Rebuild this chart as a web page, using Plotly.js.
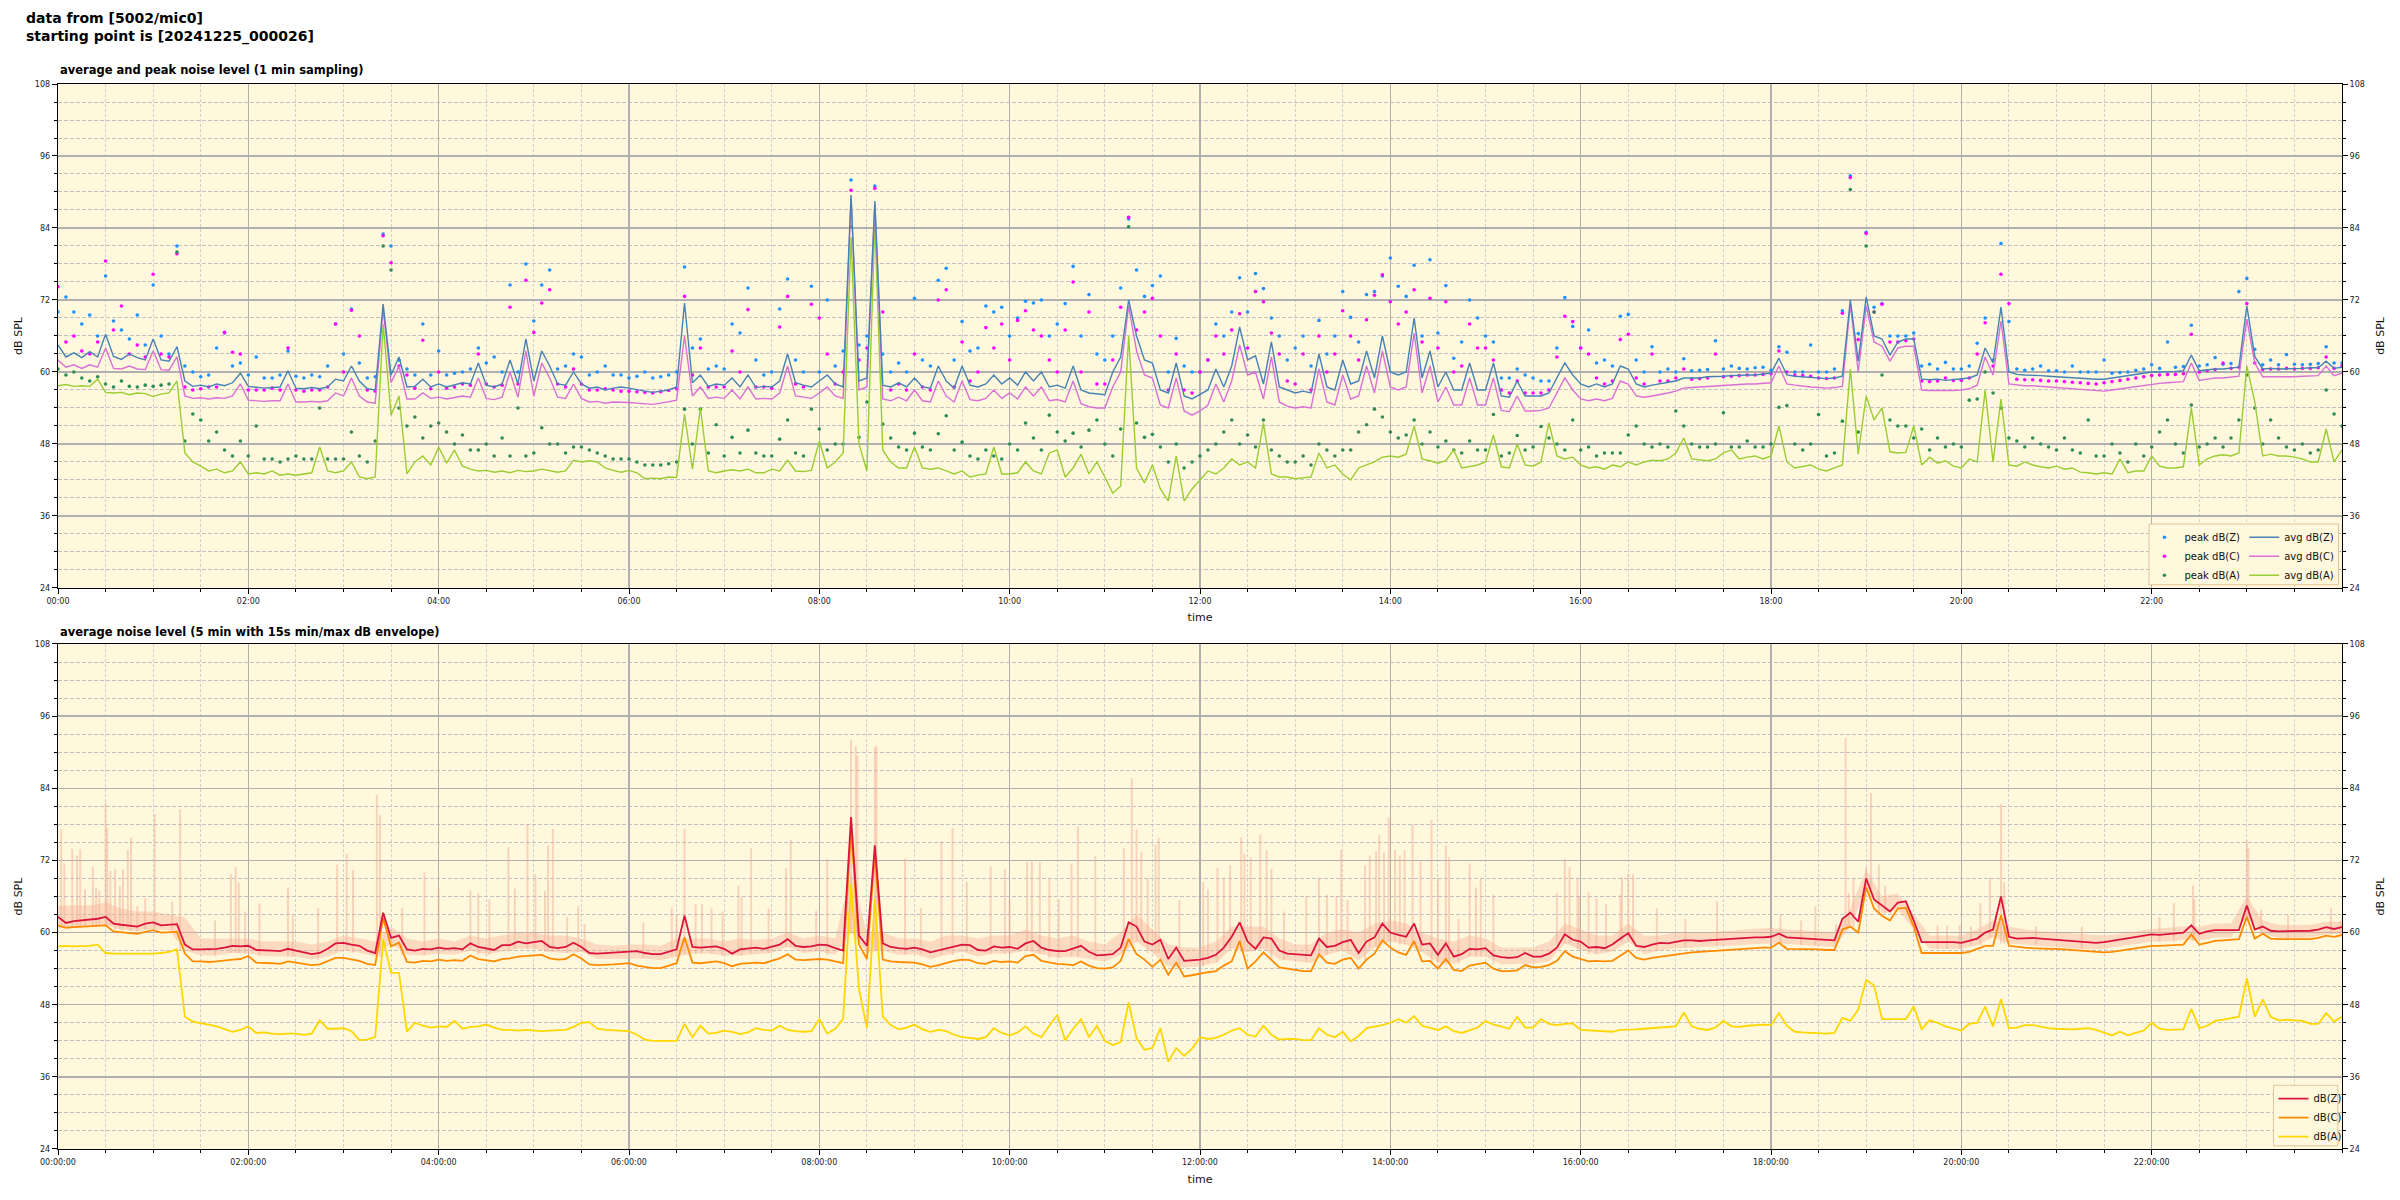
<!DOCTYPE html>
<html><head><meta charset="utf-8">
<script src="https://cdn.plot.ly/plotly-3.0.1.min.js"></script>
<style>html,body{margin:0;padding:0;background:#fff}#chart{width:2400px;height:1200px}</style>
</head><body><div id="chart"></div>
<script>
// ---------- DATA (minutes after 00:00, values in dB SPL) ----------
const hourTicks = [0,120,240,360,480,600,720,840,960,1080,1200,1320];
const topTickText = ['00:00','02:00','04:00','06:00','08:00','10:00','12:00','14:00','16:00','18:00','20:00','22:00'];
const bottomTickText = ['00:00:00','02:00:00','04:00:00','06:00:00','08:00:00','10:00:00','12:00:00','14:00:00','16:00:00','18:00:00','20:00:00','22:00:00'];

// top chart: 1-min averages, read every 5 min (00:00 ... 24:00)
const avgZ = [
64.5,62.5,63.2,62.4,63.4,62.5,66.3,62.6,62.1,63.0,62.4,62.0,
65.5,62.0,61.8,64.2,58.5,57.6,57.8,57.5,58.0,57.7,58.2,59.8,
57.6,57.5,57.3,57.4,57.5,60.2,57.3,57.2,57.4,57.2,57.5,58.8,
58.5,61.0,58.5,57.2,57.0,71.3,59.5,62.5,57.5,57.6,58.8,57.5,
58.0,57.5,57.8,58.2,58.0,61.5,57.8,57.5,58.0,62.0,58.0,65.5,
58.5,63.5,61.0,58.0,57.8,60.0,58.0,57.3,57.5,57.0,57.3,57.5,
57.3,57.0,56.8,56.6,56.8,57.0,57.5,71.5,58.2,59.5,57.6,58.0,
57.8,59.0,57.5,59.5,57.4,57.6,57.5,58.5,63.0,58.2,57.8,57.5,
58.5,59.5,58.0,57.5,89.5,58.5,59.0,88.5,57.8,57.5,58.2,57.5,
59.0,57.5,57.3,61.0,58.5,57.3,61.0,57.8,57.5,58.0,59.5,58.0,
59.0,57.8,60.0,58.5,60.0,57.5,57.8,57.3,61.0,57.0,56.5,56.3,
56.2,60.0,62.5,72.0,66.0,62.0,61.5,57.0,56.5,61.5,56.0,55.5,
56.2,57.0,60.5,57.5,61.0,67.5,62.0,62.7,58.0,65.0,57.5,57.0,
56.5,56.8,56.5,63.0,57.5,57.0,62.0,58.0,58.5,63.5,59.0,66.0,
60.0,59.5,60.0,69.0,59.0,63.5,57.5,60.0,57.0,57.0,61.5,57.0,
57.0,61.5,56.0,55.8,58.5,56.0,56.0,56.0,56.5,59.0,61.5,59.5,
58.0,57.5,58.0,57.5,58.0,61.0,60.5,58.0,57.5,57.8,58.0,58.2,
58.5,59.0,59.0,59.0,59.2,59.2,59.3,59.4,59.5,59.5,59.5,59.6,
59.8,62.3,59.5,59.3,59.2,59.2,59.0,58.9,59.0,59.3,72.0,61.8,
72.5,66.0,65.5,62.8,65.0,65.5,65.5,58.8,58.7,58.8,58.6,58.7,
58.8,59.0,59.5,64.0,61.5,70.8,60.0,59.6,59.5,59.5,59.4,59.3,
59.2,59.2,59.1,59.0,58.9,58.8,58.8,59.0,59.2,59.4,59.6,59.8,
60.0,60.0,60.0,60.1,60.2,62.8,60.2,60.4,60.5,60.5,60.6,60.8,
71.0,62.6,60.5,60.6,60.5,60.5,60.6,60.6,60.7,60.7,61.8,60.6,60.8];
const avgC = [
62.0,60.8,61.2,60.6,61.2,60.8,64.0,60.6,60.5,61.0,60.5,60.4,
63.5,60.4,60.3,62.5,56.0,55.6,55.7,55.5,55.7,55.6,56.0,58.0,
55.3,55.2,55.1,55.2,55.2,58.0,55.0,55.0,55.1,55.0,55.2,56.5,
56.0,59.0,56.0,55.0,54.8,70.5,58.2,61.0,55.5,55.5,56.5,55.6,
55.8,55.5,55.7,56.0,55.8,59.0,55.6,55.4,55.8,60.0,55.8,63.5,
56.0,61.5,59.0,55.8,55.6,58.0,55.6,55.0,55.1,54.8,55.0,55.0,
54.9,54.8,54.7,54.6,54.8,55.0,55.3,66.0,56.0,57.5,55.6,55.8,
55.6,57.0,55.5,57.5,55.5,55.6,55.5,56.5,61.0,56.0,55.8,55.6,
56.5,57.5,56.0,55.6,89.0,57.0,57.5,88.0,55.5,55.2,55.8,55.2,
57.0,55.2,55.0,58.5,56.0,55.0,58.5,55.4,55.2,55.6,57.0,55.6,
56.5,55.5,57.5,56.0,57.5,55.2,55.4,55.0,58.5,54.7,54.2,54.0,
54.0,57.5,60.0,71.0,63.5,59.5,59.0,54.5,54.0,59.0,53.5,52.8,
53.5,54.5,58.0,55.0,58.5,64.5,59.5,60.0,55.5,62.5,55.0,54.3,
54.0,54.2,54.0,60.5,55.0,54.5,59.5,55.5,56.0,61.0,56.5,63.5,
57.5,57.0,57.5,66.5,56.5,61.0,55.0,57.5,54.5,54.5,59.0,54.5,
54.5,59.0,53.6,53.4,56.0,53.5,53.5,53.6,54.0,56.5,59.0,57.0,
55.5,55.2,55.5,55.2,55.6,58.5,58.0,56.0,55.8,56.0,56.2,56.5,
56.8,57.3,57.4,57.5,57.6,57.6,57.7,57.8,57.9,58.0,58.0,58.1,
58.2,61.0,58.0,57.8,57.6,57.5,57.4,57.3,57.4,57.6,71.3,60.0,
71.0,65.0,64.3,61.8,64.0,64.3,64.3,57.0,56.9,56.9,56.8,56.9,
57.0,57.2,57.8,62.5,59.5,68.5,58.0,57.8,57.7,57.7,57.6,57.5,
57.4,57.3,57.2,57.1,57.0,56.9,56.8,57.0,57.2,57.4,57.6,57.8,
58.0,58.1,58.2,58.3,58.4,61.5,58.6,58.8,59.0,59.0,59.1,59.3,
68.8,61.5,59.2,59.2,59.1,59.2,59.2,59.3,59.3,59.4,61.0,59.4,59.8];
const avgA = [
57.7,57.9,57.6,57.7,57.6,58.8,56.6,56.5,56.6,56.2,56.5,56.4,
55.9,56.3,56.5,58.5,46.5,45.0,44.3,43.5,43.8,43.2,43.5,45.0,
43.0,43.2,43.0,43.5,42.8,43.0,42.8,43.0,43.2,47.5,43.5,43.2,
43.5,45.0,42.5,42.2,42.5,68.0,52.8,56.0,43.0,45.0,46.0,44.5,
47.5,44.8,47.0,44.3,43.8,43.5,43.6,43.3,43.5,43.2,43.6,43.4,
43.5,43.8,43.5,43.3,43.5,45.3,45.0,45.2,45.0,44.0,43.6,43.3,
43.6,43.2,42.2,42.3,42.2,42.5,42.4,53.0,43.8,54.0,43.5,43.2,
43.5,43.7,43.5,43.8,43.2,43.2,43.8,43.5,45.3,43.5,43.4,43.6,
48.5,44.0,45.0,46.5,82.5,48.0,43.5,85.0,47.0,45.0,44.0,44.0,
47.5,44.0,43.8,44.0,43.5,43.0,43.5,42.5,42.8,43.0,47.5,43.0,
43.0,43.2,45.0,43.5,43.0,46.5,47.0,42.5,44.0,46.3,43.0,45.0,
42.5,39.8,41.0,66.0,44.0,41.5,44.5,40.5,38.5,46.0,38.5,40.5,
42.0,43.5,43.0,44.0,45.5,44.5,45.0,44.0,51.5,43.0,42.5,42.5,
42.2,42.3,42.5,46.5,44.0,44.5,43.0,42.0,44.0,44.5,45.0,45.8,
46.0,45.8,46.3,51.0,45.5,45.2,44.8,45.2,47.0,44.0,44.3,44.5,
45.0,49.5,44.2,44.0,48.0,44.5,44.3,45.0,51.5,46.0,45.5,45.8,
44.5,44.0,44.2,43.8,44.5,44.2,45.0,44.5,45.0,45.3,45.2,45.5,
46.5,49.0,45.5,45.3,45.2,45.5,46.5,47.0,45.5,45.8,46.0,45.5,
46.0,51.0,45.0,44.0,44.2,44.5,43.8,43.5,44.0,44.5,60.5,46.3,
56.0,52.0,54.0,46.7,46.5,46.6,51.0,44.5,45.8,44.8,45.2,44.3,
44.0,45.5,45.0,57.0,45.0,55.5,44.5,44.3,45.0,44.5,44.2,44.0,
44.3,43.8,44.0,43.3,43.2,43.0,43.2,43.0,45.5,43.2,43.5,43.5,
46.0,44.3,44.0,44.0,44.2,54.0,44.5,45.5,46.0,46.2,46.0,46.5,
61.0,55.0,46.0,46.3,46.0,46.0,45.8,45.5,45.0,45.0,50.5,45.0,47.0];

// top chart: peak values, read every 5 min
const peakZ = [
70,72.5,70,68,69.5,66,76,68.5,67,65.5,69.5,64.5,
74.5,66,63,81,61,60,59.2,59.5,64,66.5,61,61.5,
59.5,62.5,59,59,59.5,63.5,59.3,59,59.5,59.2,61,68,
63,70.5,61.5,59,59.2,83,81,62,60.5,59.5,68,59.5,
63.5,59.5,59.8,60,60.5,64,61.5,62.5,60,74.5,60,78,
68.5,74.5,77,60.5,61,63,62.5,59.5,60,61,59.5,59.5,
59,59.3,60,59,59.2,59.5,60,77.5,64,65.5,60.5,61,
60.5,68,66.5,74,62,59.5,60,70.5,75.5,62,60,74.3,
60,72,61,63.5,92,64.5,66,91,63,60,61.5,60,
72.3,62,61,75.3,77.3,62,68.4,63.5,64,71,70,70.8,
66,69,71.8,71.5,72,66,68,71.4,77.6,66,72.9,63,
62,66,74,85.5,77,72.6,74.4,76,60,65.6,61,60,
60,62,68,66,70,75.7,70,76.4,73.9,69,66,62,
64,66,61,68.6,63,66,73.4,69.1,65,72.9,73.4,76,
79,74.3,72.6,77.8,66,78.7,66.5,74.4,62.3,65,72,69,
66,65,59,59,60.5,59.5,59,58.5,58.5,64,72.4,67.6,
64,67,61.5,62,61,69.3,69.6,62,60,64.2,60,60.5,
60,62.2,60.2,60.3,60.4,65.2,60.5,61,60.6,60.5,60.7,60.8,
60.3,64.2,63.3,60,60,64.5,60,60,60.5,70.2,92.7,66.4,
83.3,70.8,71.4,66,66,66,66.5,61,61.3,60.5,61.6,60.5,
60.5,61,64.8,69,62,81.4,68.4,60.5,60.3,60.5,61,60.2,
60.2,60,61,60,60,60,62,59.8,59.9,60,60.3,60.5,
61.2,60.6,65,60.8,60.9,67.8,61,61.2,62.4,61.3,61.4,73.4,
75.6,63.8,61.2,62,61.2,62.9,61.3,61.2,61.3,61.4,64.2,61.5,61.5];
const peakC = [
74.2,65,66,63.5,63,65,78.5,67,71,63,64.5,62.5,
76.3,63,62.5,79.7,57.5,57,57.2,57.5,57.5,66.6,63.3,63,
57,57,57,57.3,57,64,57,56.8,57,57,57.5,68,
60,70.3,66,57,56.8,82.7,78.2,61,59.5,57.3,65.3,57.2,
60,57.3,57.5,58,57.8,63,58,57.5,57.8,70.8,58,75.3,
66.6,71.5,73.7,58,57.5,60.5,58,57,57,57.2,57,56.8,
56.8,56.7,56.6,56.5,56.7,56.9,57.2,72.6,59.5,64,57.5,57.5,
57.5,63.5,60,70.4,57.5,57.5,57.3,67.5,72.6,58,57.5,71.3,
69,63,58,60,90.3,62,64,90.6,70,57,58,57,
63,57.5,57,72,73.7,57.5,65,58.5,60,67.4,64,68,
62,68.6,70.2,67,66,62,60,67,75,60,70,58,
58,62,70.8,85.8,67,70,72.3,66,57,63,57,56.5,
60,62,66,63,67,69.7,64,73.4,71.7,66.5,63,58.5,
58,63,57,66,60,63,70.2,66,62,68.7,72.8,76.2,
71.7,68,70,73.7,65,72.3,64,71.7,60,61,68,64,
64,62,57,56.5,58.5,56.5,56.5,56.5,57,62.5,69.3,68.4,
64,63,59,58,58.5,65.4,66.3,59,58,63,58.5,58.5,
59,60.5,58.8,58.9,59,63,59.2,59.3,59.4,59.5,59.5,59.6,
59.7,63.5,60,59.5,59.4,59.3,59,58.9,59,69.8,92.4,65.4,
83.1,70,71.3,65,65,65.2,65.5,58.5,58.4,58.5,59,58.6,
58.6,59,63,68.2,61,76.3,71.4,58.8,58.7,58.7,58.6,58.5,
58.5,58.4,58.3,58.2,58.1,58,58.2,58.4,58.6,58.8,59,59.2,
59.4,59.5,59.6,59.6,59.7,66.3,60,60.2,60.4,61.5,60.6,60.8,
71.4,61.5,60.4,60.5,60.5,60.6,60.5,60.6,60.6,60.7,62.5,60.6,61];
const peakA = [
60.5,59.5,60,59,58.5,59.2,58,57.5,58.5,57.6,57.5,57.8,
57.6,57.8,58,80,48.5,53,52,48.5,50,47,46,48.5,
46,51,45.5,45.5,45,45.5,46,45.5,45.5,54,45.5,45.5,
45.5,50,46,45,48.5,81,77,54,51,52.5,49,51,
51.5,50,48,49.5,47,47,48,46,49,46,54,46,
46.5,50.7,48,48,46.5,47.5,47.5,47,46.5,46,45.5,45.5,
45.5,45,44.5,44.5,44.5,44.7,45,53.8,48,53.8,46.5,51.2,
46,49.1,46.5,50.3,46.5,46,46,48.8,52,46.5,46,53.8,
50.5,47,48,48,84.2,49.1,55,84.1,51.3,49,47.5,47,
49.8,47.5,47,49.7,52.7,47,48.3,46,45.5,47,46,45.5,
48,47,51.5,49,47,52.8,50,48.5,49.8,47.5,50.3,52,
48,46,50.5,84.2,51.5,49.1,49.6,47.5,45,48,44,45,
46,47,48,50,52,48,49.5,47.5,52,47,46,45,
45,46,44.5,48,47,46,47,47,50,51.2,53.8,52.5,
50,49,49.5,52,48,50,47.5,48.5,47,46.5,48.5,47,
47,52.9,46,46.5,49.4,47,47.5,50.9,49,48,47,52,
47,47.5,46,46.5,46.5,46.5,49.5,51,48,47.5,48,47.5,
53.5,51,48,47.5,47.5,48,53.2,47.5,47.5,48.5,47.5,47.5,
48,54.1,54.4,48,47,48,52.9,46,46.5,51.8,90.4,50,
81,70,59.5,52,51,51,49,50.5,47,49,47.5,48,
47.5,55.3,55.5,60,56.5,54,49,48.5,47.5,49,48,47.5,
47,49,47,46.5,52,46,46,48,46.5,45,48,46,
47.5,50,52,48,46.5,54.5,47.5,48,49,47.5,49,52,
59.5,54,48,52,49,47.5,47,48,46.5,47,57,53,51];

// bottom chart: 5-min averages, read every 5 min
const levelZ = [
62.6,61.6,61.9,62.0,62.1,62.3,62.6,61.5,61.3,61.1,61.0,61.5,
61.7,61.2,61.3,61.4,58.0,57.2,57.2,57.2,57.3,57.5,57.8,57.7,
57.8,57.1,57.1,57.0,56.9,57.3,57.0,56.7,56.4,56.6,57.3,58.2,
58.3,58.0,57.8,57.0,56.6,63.3,59.1,59.5,57.2,57.0,57.3,57.2,
57.5,57.3,57.4,57.2,58.2,57.6,57.3,57.1,57.9,57.9,58.5,58.2,
58.4,58.6,57.6,57.4,57.6,58.3,57.6,56.6,56.5,56.6,56.6,56.7,
56.8,56.9,56.6,56.4,56.4,56.8,57.2,62.8,57.6,57.5,57.6,57.7,
57.3,56.5,57.2,57.4,57.5,57.3,57.7,58.0,58.9,57.8,57.6,57.7,
58.0,57.9,57.4,57.0,79.2,59.5,57.8,74.5,58.2,57.6,57.4,57.3,
57.5,57.2,56.7,57.0,57.4,57.7,58.0,57.9,57.1,57.0,57.7,57.5,
57.6,57.3,58.2,58.6,57.5,57.1,56.9,56.9,57.3,57.8,56.8,56.2,
56.3,56.4,57.5,61.7,61.0,58.5,58.0,58.8,55.6,57.5,55.3,55.4,
55.5,55.8,56.3,57.5,59.3,61.7,58.5,57.3,59.2,59.0,57.0,56.5,
56.4,56.2,56.2,59.0,57.6,57.8,58.4,58.8,56.6,58.5,59.2,61.5,
60.0,59.6,59.3,61.5,58.0,58.2,56.3,58.2,56.0,56.4,57.3,57.2,
57.4,56.2,55.9,55.8,55.9,56.6,56.0,56.0,56.5,57.5,59.7,58.8,
58.5,57.5,57.6,57.4,58.0,59.0,59.9,57.8,57.6,58.0,58.3,58.2,
58.5,58.7,58.7,58.6,58.7,58.8,58.9,59.0,59.0,59.1,59.2,59.2,
59.3,59.8,59.2,59.1,59.0,58.9,58.9,58.8,58.7,62.3,63.3,61.8,
69.0,65.5,64.5,63.5,65.0,65.2,62.0,58.4,58.4,58.4,58.5,58.4,
58.3,58.6,59.0,60.0,60.5,66.0,59.3,59.0,59.1,59.1,59.0,58.9,
58.8,58.7,58.6,58.5,58.3,58.3,58.4,58.6,58.8,59.0,59.2,59.4,
59.7,59.6,59.7,59.8,60.0,61.2,59.8,60.2,60.4,60.4,60.4,60.4,
64.5,60.5,61.0,60.3,60.2,60.2,60.2,60.2,60.3,60.5,60.9,60.6,60.9];
const levelC = [
61.2,60.8,60.9,61.0,61.1,61.1,61.2,60.2,60.0,59.9,59.8,60.1,
60.4,60.0,60.0,60.1,56.5,55.2,55.2,55.1,55.2,55.4,55.5,55.6,
56.1,55.0,55.0,54.9,54.8,55.2,55.0,54.8,54.6,54.7,55.2,55.8,
55.8,55.5,55.3,54.8,54.6,62.4,57.7,58.3,55.1,55.0,55.3,55.2,
55.5,55.3,55.4,55.3,56.2,55.6,55.4,55.2,55.6,55.7,56.0,56.1,
56.2,56.3,55.7,55.5,55.6,56.4,55.7,54.7,54.6,54.6,54.7,54.8,
54.9,54.5,54.3,54.1,54.1,54.5,54.9,59.2,55.0,54.9,55.1,55.2,
54.9,54.4,54.8,54.9,55.0,54.9,55.3,55.7,56.4,55.5,55.4,55.5,
55.6,55.5,55.2,54.9,77.1,58.0,55.6,73.1,55.5,55.2,55.1,55.0,
55.0,54.7,54.3,54.6,55.0,55.3,55.5,55.4,54.9,54.8,55.3,55.1,
55.2,55.0,56.1,56.3,55.3,55.0,54.8,54.7,54.6,55.2,54.5,54.1,
54.0,54.2,55.3,58.9,56.4,55.5,54.3,55.5,53.0,55.0,52.7,52.9,
53.2,53.4,53.6,54.5,55.2,58.6,54.0,55.2,56.7,55.5,54.2,54.0,
53.8,53.6,53.6,56.4,55.0,54.8,55.5,55.8,54.0,55.5,56.5,58.7,
57.5,56.7,56.3,58.6,55.2,55.3,54.0,55.6,53.8,53.6,54.5,54.8,
55.0,54.0,53.6,53.6,53.7,54.6,54.2,54.3,54.6,55.3,56.9,56.0,
55.6,55.2,55.3,55.2,55.3,56.2,57.0,55.8,55.5,55.8,56.0,56.1,
56.3,56.5,56.7,56.8,56.9,57.0,57.0,57.1,57.2,57.3,57.4,57.5,
57.5,58.3,57.3,57.3,57.2,57.2,57.2,57.1,57.1,60.5,61.0,60.0,
67.5,64.0,62.8,62.0,64.0,64.1,61.0,56.6,56.6,56.6,56.6,56.6,
56.6,56.8,57.3,57.8,57.8,62.9,57.8,57.6,57.5,57.4,57.3,57.3,
57.3,57.2,57.1,57.0,56.8,56.7,56.7,56.8,57.0,57.2,57.4,57.6,
57.8,57.8,57.9,57.9,58.0,59.7,58.0,58.3,58.6,58.7,58.8,58.9,
62.6,59.0,59.8,59.0,58.9,58.9,58.9,58.9,58.9,59.1,59.5,59.3,59.6];
const levelA = [
57.7,57.8,57.7,57.7,57.8,58.0,56.6,56.5,56.5,56.4,56.4,56.5,
56.5,56.6,56.8,57.2,46.0,45.2,45.0,44.7,44.4,44.0,43.5,43.8,
44.4,43.3,43.4,43.2,43.1,43.2,43.2,43.0,43.2,45.4,44.0,44.0,
44.1,43.6,42.1,42.2,42.6,58.9,53.3,53.3,43.5,45.0,44.5,44.2,
44.4,44.3,45.3,44.0,44.3,44.4,44.7,44.2,43.8,43.8,43.7,43.8,
43.7,43.6,43.7,43.7,43.8,44.3,45.0,45.1,44.0,43.8,43.7,43.7,
43.6,43.0,42.2,42.0,42.0,41.9,42.0,44.8,42.6,44.5,43.2,43.3,
43.7,43.5,43.1,43.4,44.1,43.8,43.7,44.5,43.8,43.6,43.5,43.6,
45.6,43.2,44.0,45.6,68.1,50.6,44.1,65.7,46.0,44.6,43.9,44.2,
44.7,43.9,43.5,43.8,43.6,43.0,42.6,42.5,42.3,42.6,44.1,43.3,
42.9,43.4,44.4,43.2,42.6,44.5,46.3,42.1,44.0,45.6,42.6,44.5,
42.0,41.3,41.8,48.4,42.4,40.5,40.8,44.1,38.5,40.8,39.5,40.7,
42.6,42.3,42.5,43.0,43.7,44.1,43.0,42.7,44.5,43.0,42.2,42.3,
42.3,42.1,42.1,44.1,43.0,42.6,43.5,41.9,42.8,44.1,44.3,44.6,
45.0,45.6,45.0,46.1,44.5,44.2,43.8,44.4,43.6,43.3,43.8,44.2,
45.3,44.7,44.4,44.0,46.0,44.2,44.2,45.6,44.8,44.6,44.8,44.9,
43.8,43.7,43.6,43.6,43.5,43.8,43.8,43.9,44.0,44.1,44.2,44.3,
44.4,46.7,44.4,44.0,43.8,44.2,45.3,44.4,44.3,44.5,44.6,44.7,
44.6,46.6,44.5,43.5,43.4,43.3,43.2,43.2,43.3,45.8,45.3,47.2,
52.1,51.2,45.6,45.6,45.7,45.6,47.7,43.9,45.4,45.0,44.4,44.0,
43.7,44.8,45.0,47.7,44.4,48.9,44.1,44.2,44.6,44.6,44.3,44.1,
44.0,43.9,43.9,44.0,44.1,43.8,43.4,42.9,43.5,42.9,43.3,43.7,
45.0,44.0,43.8,43.8,43.9,47.3,44.1,44.5,45.3,45.5,45.8,46.0,
52.4,46.0,48.9,46.0,45.4,45.5,45.4,45.3,44.8,44.8,46.6,45.2,46.0];

// bottom chart: 15 s min/max envelope, band read every 10 min
const envelopeMin = [
60.8,60.8,61.0,61.2,60.5,60.2, 60.6,60.4,57.0,56.2,56.2,56.6,
56.5,56.1,56.0,56.0,55.5,56.0, 57.0,56.7,56.0,58.2,56.3,56.2,
56.5,56.3,57.0,56.3,56.8,57.3, 57.3,56.8,56.6,56.8,55.6,55.6,
55.7,55.7,55.4,56.0,56.5,56.5, 56.2,56.2,56.4,56.6,57.6,56.6,
56.9,56.3,60.0,56.7,57.0,56.3, 56.4,55.6,56.3,56.8,56.0,56.5,
56.5,57.0,56.4,55.8,56.0,55.6, 55.2,56.3,58.5,56.6,54.4,54.2,
54.4,55.0,57.3,56.8,57.3,55.5, 55.2,55.0,56.3,57.0,55.4,57.5,
58.5,58.0,56.8,55.0,54.8,56.0, 56.0,54.7,54.8,54.8,55.2,58.2,
57.2,56.4,56.8,58.5,56.4,57.0, 57.4,57.5,57.6,57.8,57.9,58.1,
58.2,58.1,57.9,57.8,57.6,61.0, 67.0,63.2,63.8,60.5,57.3,57.3,
57.3,57.9,59.2,58.2,58.0,57.9, 57.7,57.5,57.2,57.3,57.7,58.1,
58.5,58.5,58.8,58.7,59.2,59.2, 62.5,59.8,59.1,59.1,59.2,59.7,59.8];
const envelopeMax = [
64.5,64.5,64.5,65.0,64.0,63.5, 63.5,63.0,62.5,59.0,59.0,59.0,
59.0,58.5,58.5,58.5,58.0,58.5, 59.5,59.0,58.5,61.0,59.0,58.5,
59.0,58.5,59.5,59.0,59.5,60.0, 60.0,59.5,59.5,59.0,58.0,57.8,
58.0,58.0,57.8,59.0,59.0,59.0, 58.5,59.0,58.8,59.0,60.0,59.0,
59.5,59.0,70.0,60.0,60.0,59.0, 59.0,58.5,59.5,59.5,59.0,59.5,
59.5,60.5,59.5,59.0,59.5,58.5, 58.0,60.0,63.0,60.5,58.0,57.5,
57.5,58.5,61.0,61.0,61.0,59.0, 58.0,58.0,60.0,60.5,60.0,61.5,
62.0,61.5,60.0,59.0,58.5,59.5, 59.0,57.5,57.5,57.5,58.5,61.5,
60.5,59.5,59.5,61.5,59.5,59.5, 60.0,60.0,60.0,60.2,60.4,60.5,
60.8,60.5,60.3,60.2,60.0,64.0, 70.5,66.0,66.5,63.0,59.5,59.5,
59.5,60.5,62.0,61.0,60.5,60.2, 60.0,59.8,59.6,59.5,59.8,60.2,
60.6,60.8,61.0,61.0,61.5,61.5, 66.0,62.0,61.3,61.2,61.3,61.8,61.8];
// short max-envelope bursts (minute, dB)
const burstTimes = [2,4,9,12,14,17,22,24,26,30,31,33,36,39,41,44,46,50,55,61,72,77,99,109,112,114,118,127,145,148,164,176,182,186,201,203,217,231,240,260,265,272,284,288,296,301,307,309,312,321,328,332,369,
387,390,395,402,406,412,419,429,431,437,448,459,462,478,485,500,503,504,515,516,534,544,557,564,573,588,597,600,611,614,619,625,631,639,643,654,672,677,680,683,687,692,694,707,722,725,731,735,739,
746,748,752,758,762,765,773,787,795,800,806,809,813,824,827,831,833,836,839,843,846,849,854,859,866,870,875,877,883,890,894,897,905,945,950,953,958,959,965,970,976,985,986,990,993,1008,1026,1046,1086,1099,1108,
1121,1127,1129,1132,1140,1143,1148,1152,1185,1191,1199,1206,1212,1218,1222,1225,1227,1247,1276,1325,1334,1346,1347,1380,1381,1389,1406,1433,1439];
const burstMax = [77.1,71.5,73.9,72.8,73.9,67.2,70.9,67.5,66.9,81.6,77.4,70.3,70.6,67.7,70.5,73.7,75.8,64.4,65.7,79.7,65.1,80.5,62.0,69.7,70.9,68.3,63.5,64.9,67.5,62.9,64.1,71.3,73.1,70.4,82.9,79.5,64.1,70.0,67.5,67.0,66.5,65.5,74.2,67.3,78.0,69.7,66.9,74.5,77.2,62.6,64.4,61.4,61.7,
64.1,63.0,77.2,64.7,64.7,64.0,63.5,67.8,66.0,74.0,64.0,70.7,75.4,63.6,72.3,92.0,91.0,89.4,90.8,91.0,72.3,64.1,75.2,77.4,68.4,71.0,70.6,65.4,71.7,71.8,71.7,69.1,65.5,71.5,77.6,72.8,74.0,85.7,77.1,73.4,69.1,74.6,75.7,65.4,68.4,67.2,70.8,69.0,71.2,
75.8,73.1,72.5,76.3,73.7,70.6,63.5,66.0,69.1,66.3,66.0,73.7,65.4,71.2,72.8,73.5,76.2,73.3,79.1,73.7,72.8,73.7,78.0,71.8,78.7,69.0,74.5,72.5,62.3,71.5,67.5,69.1,66.3,66.6,72.3,70.9,69.1,66.1,66.7,65.7,64.7,66.3,69.1,69.8,69.7,64.0,62.3,65.2,62.9,62.0,64.4,
61.4,92.4,66.6,69.1,70.9,83.2,71.3,67.8,61.2,61.2,61.2,61.0,64.9,69.1,63.5,81.4,68.4,61.0,61.0,62.6,64.9,67.8,65.5,75.4,74.0,63.8,62.9,64.1,62.0];

// ---------- sampling grids ----------
const t5 = avgZ.map((_, i) => i * 5);
const t10 = envelopeMin.map((_, i) => i * 10);
const burstBase = burstTimes.map(t => envelopeMin[Math.min(envelopeMin.length - 1, Math.round(t / 10))]);
const burstHeight = burstMax.map((v, i) => Math.max(0, v - burstBase[i]));

const FONT = 'DejaVu Sans';
const peakMarker = c => ({size: 3.6, color: c});
const traces = [
  {x: t5, y: peakZ, name: 'peak dB(Z)', mode: 'markers', type: 'scatter', marker: peakMarker('#1e90ff'), xaxis: 'x', yaxis: 'y', legend: 'legend'},
  {x: t5, y: peakC, name: 'peak dB(C)', mode: 'markers', type: 'scatter', marker: peakMarker('#ff00ff'), xaxis: 'x', yaxis: 'y', legend: 'legend'},
  {x: t5, y: peakA, name: 'peak dB(A)', mode: 'markers', type: 'scatter', marker: peakMarker('#2e8b57'), xaxis: 'x', yaxis: 'y', legend: 'legend'},
  {x: t5, y: avgA, name: 'avg dB(A)', mode: 'lines', type: 'scatter', line: {color: '#9acd32', width: 1.4}, xaxis: 'x', yaxis: 'y3', legend: 'legend2', legendrank: 3},
  {x: t5, y: avgC, name: 'avg dB(C)', mode: 'lines', type: 'scatter', line: {color: '#da70d6', width: 1.4}, xaxis: 'x', yaxis: 'y3', legend: 'legend2', legendrank: 2},
  {x: t5, y: avgZ, name: 'avg dB(Z)', mode: 'lines', type: 'scatter', line: {color: '#4682b4', width: 1.4}, xaxis: 'x', yaxis: 'y3', legend: 'legend2', legendrank: 1},

  {x: t10, y: envelopeMin, mode: 'lines', type: 'scatter', line: {width: 0, color: 'rgba(0,0,0,0)'}, showlegend: false, xaxis: 'x2', yaxis: 'y2'},
  {x: t10, y: envelopeMax, mode: 'lines', type: 'scatter', fill: 'tonexty', fillcolor: 'rgba(246,176,150,0.42)', line: {width: 0, color: 'rgba(0,0,0,0)'}, showlegend: false, xaxis: 'x2', yaxis: 'y2'},
  {x: burstTimes, y: burstHeight, base: burstBase, type: 'bar', width: 1.2, marker: {color: 'rgba(242,172,150,0.5)', line: {width: 0}}, showlegend: false, xaxis: 'x2', yaxis: 'y2'},
  {x: t5, y: levelA, name: 'dB(A)', mode: 'lines', type: 'scatter', line: {color: '#ffd700', width: 1.8}, xaxis: 'x2', yaxis: 'y4', legend: 'legend3', legendrank: 3},
  {x: t5, y: levelC, name: 'dB(C)', mode: 'lines', type: 'scatter', line: {color: '#ff8c00', width: 1.8}, xaxis: 'x2', yaxis: 'y4', legend: 'legend3', legendrank: 2},
  {x: t5, y: levelZ, name: 'dB(Z)', mode: 'lines', type: 'scatter', line: {color: '#dc143c', width: 1.8}, xaxis: 'x2', yaxis: 'y4', legend: 'legend3', legendrank: 1}
];

const tickFont = {family: FONT, size: 8, color: '#222'};
const titleFont = {family: FONT, size: 11, color: '#111'};
function xAxis(anchor, labels, standoff) {
  return {anchor, range: [0, 1440], tickmode: 'array', tickvals: hourTicks, ticktext: labels,
    ticks: 'outside', ticklen: 5, tickcolor: '#000', tickfont: tickFont,
    showgrid: true, gridcolor: '#b0b0b0', gridwidth: 1.4, zeroline: false,
    minor: {tick0: 0, dtick: 30, ticks: 'outside', ticklen: 3, tickcolor: '#000', showgrid: true, gridcolor: '#d2d0cc', griddash: '3px,2px', gridwidth: 1},
    showline: true, mirror: true, linecolor: '#000', linewidth: 1.3,
    title: {text: 'time', font: titleFont, standoff}, automargin: false};
}
function yAxis(anchor, domain) {
  return {anchor, domain, range: [24, 108], tick0: 24, dtick: 12,
    ticks: 'outside', ticklen: 5, tickcolor: '#000', tickfont: tickFont,
    showgrid: true, gridcolor: '#b0b0b0', gridwidth: 1.4, zeroline: false,
    minor: {tick0: 24, dtick: 3, ticks: 'outside', ticklen: 3, tickcolor: '#000', showgrid: true, gridcolor: '#c2c2c2', griddash: '4px,2px', gridwidth: 1},
    showline: true, mirror: true, linecolor: '#000', linewidth: 1.3,
    title: {text: 'dB SPL', font: titleFont, standoff: 10}, automargin: false};
}
function yRight(over, anchor) {
  return {overlaying: over, anchor, side: 'right', range: [24, 108], tick0: 24, dtick: 12,
    ticks: 'outside', ticklen: 5, tickcolor: '#000', tickfont: tickFont, showgrid: false, zeroline: false,
    minor: {tick0: 24, dtick: 3, ticks: 'outside', ticklen: 3, tickcolor: '#000', showgrid: false},
    showline: false, title: {text: 'dB SPL', font: titleFont, standoff: 12}, automargin: false};
}

const legendBase = {bgcolor: 'rgba(0,0,0,0)', borderwidth: 0, font: {family: FONT, size: 10, color: '#111'},
  xanchor: 'left', yanchor: 'top', itemwidth: 30, tracegroupgap: 0, traceorder: 'normal'};

const layout = {
  width: 2400, height: 1200,
  margin: {l: 58, r: 58, t: 84, b: 51},
  paper_bgcolor: '#ffffff', plot_bgcolor: '#fff8dc',
  font: {family: FONT, color: '#111'},
  barmode: 'overlay',
  xaxis: xAxis('y', topTickText, 8),
  yaxis: yAxis('x', [0.5268, 1]),
  xaxis2: xAxis('y2', bottomTickText, 9),
  yaxis2: yAxis('x2', [0, 0.4742]),
  yaxis3: yRight('y', 'x'),
  yaxis4: yRight('y2', 'x2'),
  legend: Object.assign({}, legendBase, {x: 0.9135, y: 0.5880}),
  legend2: Object.assign({}, legendBase, {x: 0.9572, y: 0.5880}),
  legend3: Object.assign({}, legendBase, {x: 0.9700, y: 0.0610}),
  shapes: [
    {type: 'rect', xref: 'paper', yref: 'paper', x0: 0.9155, x1: 0.9985, y0: 0.5298, y1: 0.5868, fillcolor: '#fff8dc', line: {color: '#e2c49a', width: 1}, layer: 'above'},
    {type: 'rect', xref: 'paper', yref: 'paper', x0: 0.9700, x1: 0.9982, y0: 0.0030, y1: 0.0598, fillcolor: '#fff8dc', line: {color: '#e2c49a', width: 1}, layer: 'above'}
  ],
  annotations: [
    {text: '<b>data from [5002/mic0]<br>starting point is [20241225_000026]</b>', xref: 'paper', yref: 'paper', x: -0.0149, y: 1.0714, xanchor: 'left', yanchor: 'top', align: 'left', showarrow: false, font: {family: FONT, size: 14, color: '#000'}},
    {text: '<b>average and peak noise level (1 min sampling)</b>', xref: 'paper', yref: 'paper', x: 0, y: 1.0131, xanchor: 'left', yanchor: 'middle', showarrow: false, font: {family: FONT, size: 11.5, color: '#000'}},
    {text: '<b>average noise level (5 min with 15s min/max dB envelope)</b>', xref: 'paper', yref: 'paper', x: 0, y: 0.4854, xanchor: 'left', yanchor: 'middle', showarrow: false, font: {family: FONT, size: 11.5, color: '#000'}}
  ]
};

Plotly.newPlot('chart', traces, layout, {staticPlot: true, displayModeBar: false});
</script>
</body></html>
